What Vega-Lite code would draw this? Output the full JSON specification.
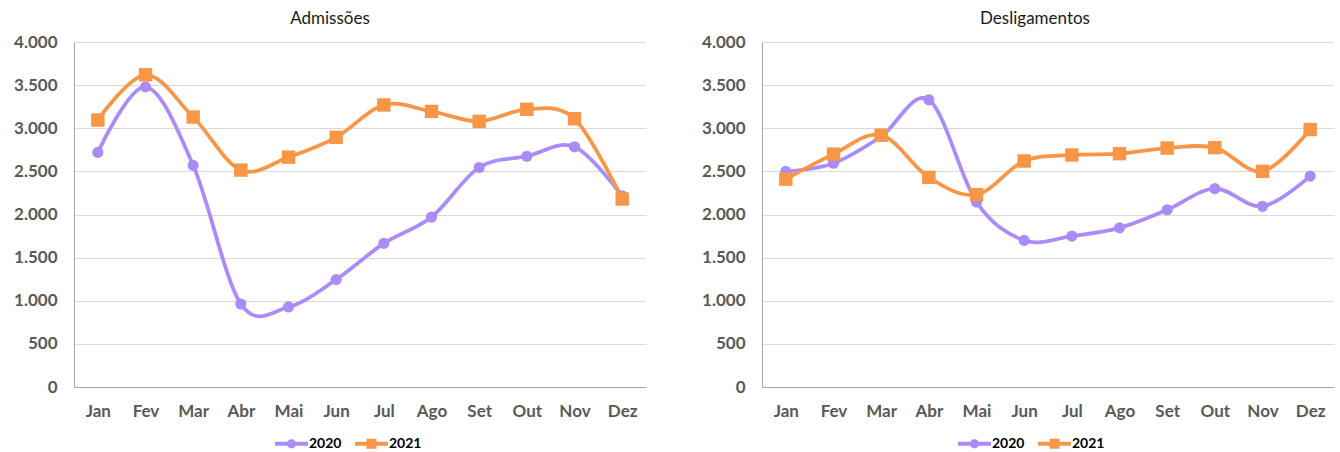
{
  "$schema": "https://vega.github.io/schema/vega-lite/v6.json",
  "background": "white",
  "padding": {"left": 13, "top": 10, "right": 5, "bottom": 0},
  "spacing": 55,
  "data": {"values": [
    {"painel": "Admissões", "mes": "Jan", "ano": "2020", "valor": 2720},
    {"painel": "Admissões", "mes": "Fev", "ano": "2020", "valor": 3480},
    {"painel": "Admissões", "mes": "Mar", "ano": "2020", "valor": 2570},
    {"painel": "Admissões", "mes": "Abr", "ano": "2020", "valor": 962},
    {"painel": "Admissões", "mes": "Mai", "ano": "2020", "valor": 928},
    {"painel": "Admissões", "mes": "Jun", "ano": "2020", "valor": 1245},
    {"painel": "Admissões", "mes": "Jul", "ano": "2020", "valor": 1665},
    {"painel": "Admissões", "mes": "Ago", "ano": "2020", "valor": 1970},
    {"painel": "Admissões", "mes": "Set", "ano": "2020", "valor": 2545},
    {"painel": "Admissões", "mes": "Out", "ano": "2020", "valor": 2675},
    {"painel": "Admissões", "mes": "Nov", "ano": "2020", "valor": 2785},
    {"painel": "Admissões", "mes": "Dez", "ano": "2020", "valor": 2215},
    {"painel": "Admissões", "mes": "Jan", "ano": "2021", "valor": 3095},
    {"painel": "Admissões", "mes": "Fev", "ano": "2021", "valor": 3620},
    {"painel": "Admissões", "mes": "Mar", "ano": "2021", "valor": 3130},
    {"painel": "Admissões", "mes": "Abr", "ano": "2021", "valor": 2515},
    {"painel": "Admissões", "mes": "Mai", "ano": "2021", "valor": 2665},
    {"painel": "Admissões", "mes": "Jun", "ano": "2021", "valor": 2895},
    {"painel": "Admissões", "mes": "Jul", "ano": "2021", "valor": 3270},
    {"painel": "Admissões", "mes": "Ago", "ano": "2021", "valor": 3195},
    {"painel": "Admissões", "mes": "Set", "ano": "2021", "valor": 3080},
    {"painel": "Admissões", "mes": "Out", "ano": "2021", "valor": 3220},
    {"painel": "Admissões", "mes": "Nov", "ano": "2021", "valor": 3110},
    {"painel": "Admissões", "mes": "Dez", "ano": "2021", "valor": 2180},
    {"painel": "Desligamentos", "mes": "Jan", "ano": "2020", "valor": 2500},
    {"painel": "Desligamentos", "mes": "Fev", "ano": "2020", "valor": 2595},
    {"painel": "Desligamentos", "mes": "Mar", "ano": "2020", "valor": 2905},
    {"painel": "Desligamentos", "mes": "Abr", "ano": "2020", "valor": 3330},
    {"painel": "Desligamentos", "mes": "Mai", "ano": "2020", "valor": 2145},
    {"painel": "Desligamentos", "mes": "Jun", "ano": "2020", "valor": 1700},
    {"painel": "Desligamentos", "mes": "Jul", "ano": "2020", "valor": 1750},
    {"painel": "Desligamentos", "mes": "Ago", "ano": "2020", "valor": 1845},
    {"painel": "Desligamentos", "mes": "Set", "ano": "2020", "valor": 2055},
    {"painel": "Desligamentos", "mes": "Out", "ano": "2020", "valor": 2300},
    {"painel": "Desligamentos", "mes": "Nov", "ano": "2020", "valor": 2095},
    {"painel": "Desligamentos", "mes": "Dez", "ano": "2020", "valor": 2445},
    {"painel": "Desligamentos", "mes": "Jan", "ano": "2021", "valor": 2410},
    {"painel": "Desligamentos", "mes": "Fev", "ano": "2021", "valor": 2700},
    {"painel": "Desligamentos", "mes": "Mar", "ano": "2021", "valor": 2920},
    {"painel": "Desligamentos", "mes": "Abr", "ano": "2021", "valor": 2430},
    {"painel": "Desligamentos", "mes": "Mai", "ano": "2021", "valor": 2230},
    {"painel": "Desligamentos", "mes": "Jun", "ano": "2021", "valor": 2620},
    {"painel": "Desligamentos", "mes": "Jul", "ano": "2021", "valor": 2690},
    {"painel": "Desligamentos", "mes": "Ago", "ano": "2021", "valor": 2705},
    {"painel": "Desligamentos", "mes": "Set", "ano": "2021", "valor": 2770},
    {"painel": "Desligamentos", "mes": "Out", "ano": "2021", "valor": 2775},
    {"painel": "Desligamentos", "mes": "Nov", "ano": "2021", "valor": 2500},
    {"painel": "Desligamentos", "mes": "Dez", "ano": "2021", "valor": 2985}
  ]},
  "hconcat": [
    {
      "width": 572, "height": 345,
      "title": {"text": "Admissões", "dx": -30},
      "transform": [{"filter": "datum.painel === 'Admissões'"}],
      "encoding": {
        "x": {"field": "mes", "type": "ordinal", "sort": ["Jan","Fev","Mar","Abr","Mai","Jun","Jul","Ago","Set","Out","Nov","Dez"], "scale": {"type": "point", "padding": 0.5}, "axis": {"title": null, "labelAngle": 0, "ticks": false, "grid": false, "labelPadding": 16}},
        "y": {"field": "valor", "type": "quantitative", "scale": {"domain": [0, 4000]}, "axis": {"title": null, "values": [0,500,1000,1500,2000,2500,3000,3500,4000], "format": ",d", "ticks": false, "labelPadding": 17}},
        "color": {"field": "ano", "type": "nominal", "scale": {"domain": ["2020","2021"], "range": ["#A98CF8","#F79646"]},
          "legend": {"orient": "none", "legendX": 201, "legendY": 385, "direction": "horizontal", "title": null,
            "encode": {"symbols": {"update": {
              "shape": {"signal": "datum.label === '2020' ? 'M-1,-0.12L1,-0.12L1,0.12L-1,0.12Z M-0.28,0A0.28,0.28,0,1,1,0.28,0A0.28,0.28,0,1,1,-0.28,0Z' : 'M-1,-0.12L1,-0.12L1,0.12L-1,0.12Z M-0.3,-0.3L0.3,-0.3L0.3,0.3L-0.3,0.3Z'"},
              "size": {"value": 1089},
              "fill": {"signal": "datum.label === '2020' ? '#A98CF8' : '#F79646'"},
              "strokeWidth": {"value": 0},
              "opacity": {"value": 1}}}}}}
      },
      "layer": [
        {"mark": {"type": "line", "interpolate": "cardinal", "strokeWidth": 3.75}},
        {"transform": [{"filter": "datum.ano === '2020'"}],
         "mark": {"type": "point", "shape": "circle", "size": 125, "filled": true, "opacity": 1, "strokeWidth": 0}},
        {"transform": [{"filter": "datum.ano === '2021'"}],
         "mark": {"type": "point", "shape": "square", "size": 180, "filled": true, "opacity": 1, "strokeWidth": 0}}
      ]
    },
    {
      "width": 572, "height": 345,
      "title": {"text": "Desligamentos", "dx": -13},
      "transform": [{"filter": "datum.painel === 'Desligamentos'"}],
      "encoding": {
        "x": {"field": "mes", "type": "ordinal", "sort": ["Jan","Fev","Mar","Abr","Mai","Jun","Jul","Ago","Set","Out","Nov","Dez"], "scale": {"type": "point", "padding": 0.5}, "axis": {"title": null, "labelAngle": 0, "ticks": false, "grid": false, "labelPadding": 16}},
        "y": {"field": "valor", "type": "quantitative", "scale": {"domain": [0, 4000]}, "axis": {"title": null, "values": [0,500,1000,1500,2000,2500,3000,3500,4000], "format": ",d", "ticks": false, "labelPadding": 17}},
        "color": {"field": "ano", "type": "nominal", "scale": {"domain": ["2020","2021"], "range": ["#A98CF8","#F79646"]},
          "legend": {"orient": "none", "legendX": 196, "legendY": 385, "direction": "horizontal", "title": null,
            "encode": {"symbols": {"update": {
              "shape": {"signal": "datum.label === '2020' ? 'M-1,-0.12L1,-0.12L1,0.12L-1,0.12Z M-0.28,0A0.28,0.28,0,1,1,0.28,0A0.28,0.28,0,1,1,-0.28,0Z' : 'M-1,-0.12L1,-0.12L1,0.12L-1,0.12Z M-0.3,-0.3L0.3,-0.3L0.3,0.3L-0.3,0.3Z'"},
              "size": {"value": 1089},
              "fill": {"signal": "datum.label === '2020' ? '#A98CF8' : '#F79646'"},
              "strokeWidth": {"value": 0},
              "opacity": {"value": 1}}}}}}
      },
      "layer": [
        {"mark": {"type": "line", "interpolate": "cardinal", "strokeWidth": 3.75}},
        {"transform": [{"filter": "datum.ano === '2020'"}],
         "mark": {"type": "point", "shape": "circle", "size": 125, "filled": true, "opacity": 1, "strokeWidth": 0}},
        {"transform": [{"filter": "datum.ano === '2021'"}],
         "mark": {"type": "point", "shape": "square", "size": 180, "filled": true, "opacity": 1, "strokeWidth": 0}}
      ]
    }
  ],
  "resolve": {"scale": {"color": "independent"}},
  "config": {
    "view": {"stroke": null},
    "font": "Lato",
    "locale": {"number": {"decimal": ",", "thousands": ".", "grouping": [3], "currency": ["R$", ""]}},
    "title": {"font": "Lato", "fontSize": 17, "fontWeight": "normal", "color": "#1a1a1a", "offset": 5, "anchor": "middle"},
    "axis": {"labelFont": "Lato", "labelFontSize": 17, "labelFontWeight": "bold", "labelColor": "#595959", "domainColor": "#a6a6a6", "domainWidth": 1, "gridColor": "#d9d9d9", "gridWidth": 1},
    "legend": {"labelFont": "Lato", "labelFontSize": 14, "labelFontWeight": "bold", "labelColor": "#000000", "symbolSize": 1089, "labelOffset": 1, "columnPadding": 13}
  }
}
